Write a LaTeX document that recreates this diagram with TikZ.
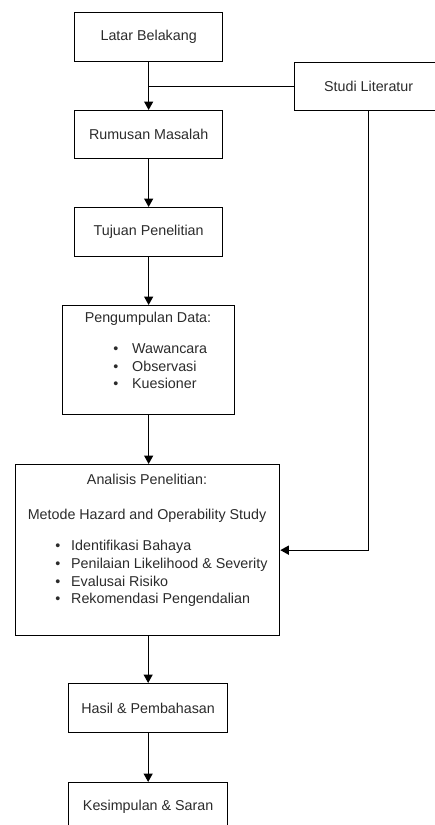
\documentclass[tikz,border=0pt]{standalone}
\usepackage{fontspec}
\setmainfont{Liberation Sans}
\usetikzlibrary{arrows.meta}
\definecolor{txt}{HTML}{2B2B2B}
\begin{document}
\begin{tikzpicture}[x=1pt,y=-1pt,
  box/.style={draw=black, line width=1.3pt, inner sep=0pt, anchor=north west, rectangle,
              text=txt, font=\fontsize{14.3}{17.5}\selectfont},
  lbl/.style={text=txt, font=\fontsize{14.3}{17.5}\selectfont, inner sep=0pt},
  arr/.style={line width=1.3pt, -{Triangle[length=8.5pt,width=9pt]}},
  ln/.style={line width=1.3pt}]
\useasboundingbox (0,0) rectangle (435,825);
\clip (0,0) rectangle (435,825);

\node[box, minimum width=148pt, minimum height=49pt] (latar) at (74,12) {Latar Belakang};
\node[box, minimum width=148pt, minimum height=48pt] (studi) at (294,62) {Studi Literatur};
\node[box, minimum width=148pt, minimum height=48pt] (rumusan) at (74,110) {Rumusan Masalah};
\node[box, minimum width=148pt, minimum height=49pt] (tujuan) at (74,207) {Tujuan Penelitian};
\node[box, minimum width=172pt, minimum height=109pt] (kumpul) at (62,305) {};
\node[box, minimum width=264pt, minimum height=171pt] (analisis) at (15,464) {};
\node[box, minimum width=159pt, minimum height=49pt] (hasil) at (68,683) {Hasil \& Pembahasan};
\node[box, minimum width=159pt, minimum height=48pt] (simpul) at (68,782) {Kesimpulan \& Saran};

% Pengumpulan Data text
\node[lbl, anchor=mid] (t1) at (148,320) {Pengumpulan Data:};
\node[lbl, anchor=mid] (b1) at (116,351) {•};
\node[lbl, anchor=mid west] (t2) at (132,351) {Wawancara};
\node[lbl, anchor=mid] (b2) at (116,369) {•};
\node[lbl, anchor=mid west] (t3) at (132,369) {Observasi};
\node[lbl, anchor=mid] (b3) at (116,386) {•};
\node[lbl, anchor=mid west] (t4) at (132,386) {Kuesioner};

% Analisis text
\node[lbl, anchor=mid] (a1) at (147,482) {Analisis Penelitian:};
\node[lbl, anchor=mid] (a2) at (147,517) {Metode Hazard and Operability Study};
\node[lbl, anchor=mid] (c1) at (58,548) {•};
\node[lbl, anchor=mid west] (a3) at (71,548) {Identifikasi Bahaya};
\node[lbl, anchor=mid] (c2) at (58,566) {•};
\node[lbl, anchor=mid west] (a4) at (71,566) {Penilaian Likelihood \& Severity};
\node[lbl, anchor=mid] (c3) at (58,584) {•};
\node[lbl, anchor=mid west] (a5) at (71,584) {Evalusai Risiko};
\node[lbl, anchor=mid] (c4) at (58,601) {•};
\node[lbl, anchor=mid west] (a6) at (71,601) {Rekomendasi Pengendalian};

% connectors
\draw[arr] (latar.south) -- (rumusan.north);
\draw[ln] (studi.west) -- (studi.west -| latar.south);
\draw[arr] (rumusan.south) -- (tujuan.north);
\draw[arr] (tujuan.south) -- (tujuan.south |- kumpul.north);
\draw[arr] (kumpul.south -| tujuan.south) -- (tujuan.south |- analisis.north);
\draw[arr] (studi.south) |- (analisis.east);
\draw[arr] (analisis.south -| hasil.north) -- (hasil.north);
\draw[arr] (hasil.south) -- (simpul.north);
\end{tikzpicture}
\end{document}
